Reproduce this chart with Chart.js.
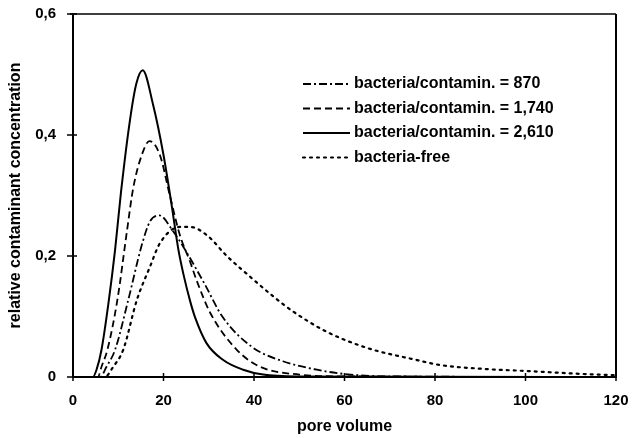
<!DOCTYPE html>
<html>
<head>
<meta charset="utf-8">
<script src="https://cdn.jsdelivr.net/npm/chart.js@4.4.0/dist/chart.umd.min.js"></script>
<style>
html,body{margin:0;padding:0;background:#fff;}
canvas{display:block;}
</style>
</head>
<body>
<canvas id="c" width="638" height="438"></canvas>
<script>
// ---- data ----
const seriesLabels = [
  'bacteria/contamin. = 870',
  'bacteria/contamin. = 1,740',
  'bacteria/contamin. = 2,610',
  'bacteria-free'
];
const x870 = [0, 6, 7.4, 9.3, 12.2, 15.2, 17, 19.1, 22.2, 24.4, 29, 33, 39.5, 46.4, 53.9, 60, 70, 120];
const y870 = [0, 0, 0.017, 0.045, 0.127, 0.218, 0.257, 0.267, 0.24, 0.215, 0.155, 0.10, 0.05, 0.026, 0.012, 0.005, 0.001, 0];
const x1740 = [0, 5.5, 6.3, 7.6, 9.8, 11.9, 13.3, 15.2, 16.9, 19.2, 21.4, 23.6, 25.9, 27.4, 30.4, 36.2, 41.3, 50, 60, 120];
const y1740 = [0, 0, 0.017, 0.045, 0.127, 0.24, 0.312, 0.367, 0.39, 0.367, 0.30, 0.235, 0.19, 0.158, 0.105, 0.045, 0.017, 0.004, 0.001, 0];
const x2610 = [0, 4.4, 5.2, 6.3, 7.8, 9.3, 10.6, 12.6, 14, 15.4, 17.7, 20, 21.8, 23.3, 24.4, 25.9, 27, 29.5, 33.2, 37.6, 42, 50, 120];
const y2610 = [0, 0, 0.012, 0.045, 0.12, 0.21, 0.305, 0.425, 0.485, 0.507, 0.45, 0.367, 0.284, 0.21, 0.17, 0.125, 0.098, 0.056, 0.028, 0.012, 0.004, 0.001, 0];
const xFree = [0, 7, 8.9, 11.1, 14.1, 17, 19.2, 23.6, 25.9, 29.5, 34, 39.1, 44.3, 48.7, 56, 65, 76, 81, 91.5, 100, 112.7, 120];
const yFree = [0, 0, 0.017, 0.045, 0.127, 0.182, 0.221, 0.248, 0.248, 0.235, 0.20, 0.166, 0.133, 0.108, 0.075, 0.048, 0.028, 0.02, 0.013, 0.01, 0.005, 0.003];
const xTicks = [0, 20, 40, 60, 80, 100, 120];
const yTicks = [0, 0.2, 0.4, 0.6];
const xTitle = 'pore volume';
const yTitle = 'relative contaminant concentration';

// ---- build ----
const pts = (xs, ys) => xs.map((x, i) => ({x: x, y: ys[i]}));
const FAMILY = '"Liberation Sans", Arial, sans-serif';
const styles = [
  {borderDash: [8, 3, 2, 3], borderWidth: 1.8},
  {borderDash: [7, 4], borderWidth: 1.8},
  {borderDash: [], borderWidth: 2},
  {borderDash: [2, 5], borderWidth: 2.2, borderCapStyle: 'round'}
];
const seriesData = [pts(x870, y870), pts(x1740, y1740), pts(x2610, y2610), pts(xFree, yFree)];

const datasets = seriesData.map((d, i) => Object.assign({
  label: seriesLabels[i],
  data: d,
  borderColor: '#000',
  backgroundColor: '#000',
  pointRadius: 0,
  fill: false,
  tension: 0.4,
  cubicInterpolationMode: 'monotone'
}, styles[i]));

const framePlugin = {
  id: 'frame',
  afterDraw(chart) {
    const {ctx, chartArea: a, scales} = chart;
    ctx.save();
    ctx.strokeStyle = '#000';
    ctx.lineWidth = 1.5;
    ctx.beginPath();
    ctx.moveTo(a.left - 3, a.top);
    ctx.lineTo(a.right, a.top);
    ctx.stroke();
    ctx.lineWidth = 2;
    ctx.beginPath();
    ctx.moveTo(a.right, a.top);
    ctx.lineTo(a.right, a.bottom);
    ctx.stroke();
    ctx.lineWidth = 1.5;
    xTicks.forEach(v => {
      const px = scales.x.getPixelForValue(v);
      ctx.beginPath();
      ctx.moveTo(px, a.bottom - 4);
      ctx.lineTo(px, a.bottom + 4);
      ctx.stroke();
    });
    yTicks.forEach(v => {
      const py = scales.y.getPixelForValue(v);
      ctx.beginPath();
      ctx.moveTo(a.left - 6, py);
      ctx.lineTo(a.left + 4, py);
      ctx.stroke();
    });
    // legend
    const lg = chart.options.plugins.frame;
    ctx.font = 'bold 16px ' + FAMILY;
    ctx.textBaseline = 'middle';
    ctx.textAlign = 'left';
    ctx.fillStyle = '#000';
    chart.data.datasets.forEach((ds, i) => {
      const y = lg.top + i * lg.gap;
      ctx.save();
      ctx.lineWidth = ds.borderWidth;
      ctx.setLineDash(ds.borderDash || []);
      ctx.lineCap = ds.borderCapStyle || 'butt';
      ctx.beginPath();
      ctx.moveTo(lg.left, y);
      ctx.lineTo(lg.left + lg.len, y);
      ctx.stroke();
      ctx.restore();
      ctx.fillText(ds.label, lg.left + lg.len + 4, y);
    });
    ctx.restore();
  }
};

new Chart(document.getElementById('c'), {
  type: 'line',
  data: {datasets: datasets},
  plugins: [framePlugin],
  options: {
    responsive: false,
    animation: false,
    layout: {padding: {top: 14, right: 22, left: 0, bottom: 0}},
    plugins: {
      legend: {display: false},
      tooltip: {enabled: false},
      frame: {left: 303, top: 84, gap: 24.5, len: 47}
    },
    scales: {
      x: {
        type: 'linear',
        min: 0, max: 120,
        afterBuildTicks(s) { s.ticks = xTicks.map(v => ({value: v})); },
        afterFit(s) { s.height = 61; s.paddingLeft = 0; s.paddingRight = 0; },
        grid: {display: false},
        border: {display: true, color: '#000', width: 2},
        ticks: {color: '#000', padding: 7, font: {family: FAMILY, size: 15, weight: 'bold'}},
        title: {display: true, text: xTitle, color: '#000', padding: {top: 0, bottom: 2},
                font: {family: FAMILY, size: 16, weight: 'bold'}}
      },
      y: {
        min: 0, max: 0.6,
        afterBuildTicks(s) { s.ticks = yTicks.map(v => ({value: v})); },
        afterFit(s) { s.width = 73; s.paddingTop = 0; s.paddingBottom = 0; },
        grid: {display: false},
        border: {display: true, color: '#000', width: 2},
        ticks: {color: '#000', padding: 9, font: {family: FAMILY, size: 15, weight: 'bold'},
                callback: v => v === 0 ? '0' : v.toFixed(1).replace('.', ',')},
        title: {display: true, text: yTitle, color: '#000', padding: {top: 6, bottom: 0},
                font: {family: FAMILY, size: 16, weight: 'bold'}}
      }
    }
  }
});
</script>
</body>
</html>
